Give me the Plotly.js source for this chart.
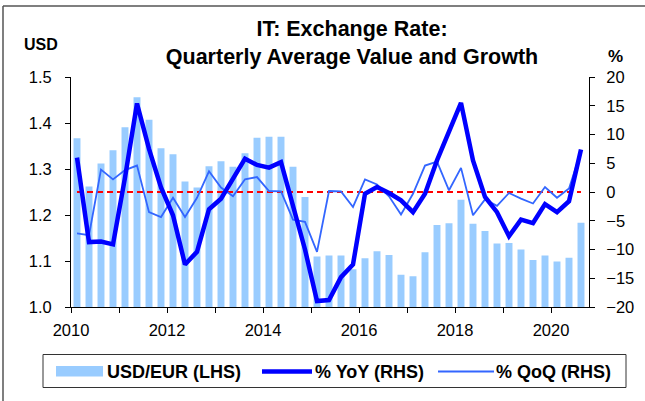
<!DOCTYPE html>
<html>
<head>
<meta charset="utf-8">
<script src="https://cdn.plot.ly/plotly-3.0.1.min.js"></script>
<style>
  html, body { margin: 0; padding: 0; background: #ffffff; }
  #chart { width: 645px; height: 401px; }
</style>
</head>
<body>
<div id="chart"></div>
<script>
// Quarter labels 2010Q1 .. 2020Q3
const quarters = [
  "2010Q1","2010Q2","2010Q3","2010Q4",
  "2011Q1","2011Q2","2011Q3","2011Q4",
  "2012Q1","2012Q2","2012Q3","2012Q4",
  "2013Q1","2013Q2","2013Q3","2013Q4",
  "2014Q1","2014Q2","2014Q3","2014Q4",
  "2015Q1","2015Q2","2015Q3","2015Q4",
  "2016Q1","2016Q2","2016Q3","2016Q4",
  "2017Q1","2017Q2","2017Q3","2017Q4",
  "2018Q1","2018Q2","2018Q3","2018Q4",
  "2019Q1","2019Q2","2019Q3","2019Q4",
  "2020Q1","2020Q2","2020Q3"
];

// USD per EUR, quarterly average (LHS)
const usdEur = [
  1.367, 1.262, 1.312, 1.341,
  1.391, 1.456, 1.407, 1.345,
  1.332, 1.273, 1.260, 1.306,
  1.317, 1.305, 1.334, 1.368,
  1.370, 1.370, 1.305, 1.239,
  1.110, 1.112, 1.112, 1.082,
  1.106, 1.121, 1.113, 1.070,
  1.067, 1.119, 1.178, 1.182,
  1.233, 1.181, 1.165, 1.138,
  1.139, 1.125, 1.102, 1.112,
  1.099, 1.107, 1.183
];

// % YoY (RHS)
const yoy = [
  5.98, -8.7, -8.6, -9.1,
  2.5, 15.4, 7.5, 0.8,
  -4.05, -12.6, -10.4, -3.0,
  -1.16, 2.3, 5.8, 4.7,
  4.24, 5.2, -2.4, -10.0,
  -18.96, -18.8, -14.8, -12.6,
  -0.3, 0.87, -0.17, -1.45,
  -3.5, -0.3, 5.5, 10.5,
  15.5, 5.5, -0.87, -3.5,
  -7.7, -4.8, -5.4, -2.1,
  -3.5, -1.6, 7.4
];

// % QoQ (RHS)
const qoq = [
  -7.2, -7.5, 3.9, 2.2,
  3.8, 4.6, -3.5, -4.35,
  -1.0, -4.35, -1.0, 3.6,
  0.77, -0.75, 2.2, 2.6,
  0.17, 0.1, -4.8, -5.2,
  -10.4, 0.17, 0.1, -2.6,
  2.2, 1.3, -0.75, -3.9,
  -0.3, 4.6, 5.3, 0.3,
  4.2, -4.05, -1.3, -2.4,
  -0.17, -1.16, -2.0, 0.87,
  -1.0, 0.6, 7.1
];

const zeroLine = quarters.map(() => 0);

const yearTicks = [2010,2011,2012,2013,2014,2015,2016,2017,2018,2019,2020];
const yearTickText = ["2010","","2012","","2014","","2016","","2018","","2020"];

// Convert quarter label to a fractional-year position (centre of the quarter)
const xPos = quarters.map(q => {
  const y = parseInt(q.slice(0, 4), 10);
  const n = parseInt(q.slice(5), 10);
  return y + (n - 1) / 4 + 0.125;
});

const FONT = "Liberation Sans, Arial, Helvetica, sans-serif";
const BAR_COLOR = "#99ccff";
const YOY_COLOR = "#0000ff";
const QOQ_COLOR = "#3366ff";

const traces = [
  {
    type: "bar", x: xPos, y: usdEur, name: "USD/EUR (LHS)",
    marker: { color: BAR_COLOR, line: { width: 0 } },
    yaxis: "y", hoverinfo: "skip"
  },
  {
    type: "scatter", mode: "lines", x: xPos, y: zeroLine, yaxis: "y2",
    line: { color: "#ff0000", width: 2, dash: "6px,4px" },
    showlegend: false, hoverinfo: "skip"
  },
  {
    type: "scatter", mode: "lines", x: xPos, y: qoq, name: "% QoQ (RHS)",
    line: { color: QOQ_COLOR, width: 1.8 }, yaxis: "y2", hoverinfo: "skip"
  },
  {
    type: "scatter", mode: "lines", x: xPos, y: yoy, name: "% YoY (RHS)",
    line: { color: YOY_COLOR, width: 4.5 }, yaxis: "y2", hoverinfo: "skip"
  }
];

// plot area: x 71..589 px, y 77..307 px
const L = 71, R = 589, T = 77, B = 307;
const px = v => (v - L) / (R - L);
const py = v => (B - v) / (B - T);

const shapes = [
  // outer frame (left and top)
  { type: "line", xref: "paper", yref: "paper", x0: px(3), x1: px(3), y0: py(6), y1: py(401), line: { color: "#555", width: 1.5 } },
  { type: "line", xref: "paper", yref: "paper", x0: px(3), x1: px(645), y0: py(6), y1: py(6), line: { color: "#555", width: 1.5 } },
  // legend box
  { type: "rect", xref: "paper", yref: "paper", x0: px(43), x1: px(626), y0: py(354.5), y1: py(387.5), line: { color: "#333", width: 1 }, fillcolor: "rgba(0,0,0,0)" },
  // legend swatches
  { type: "rect", xref: "paper", yref: "paper", x0: px(56), x1: px(103), y0: py(366), y1: py(376.5), line: { width: 0 }, fillcolor: BAR_COLOR },
  { type: "line", xref: "paper", yref: "paper", x0: px(262), x1: px(312), y0: py(371.5), y1: py(371.5), line: { color: YOY_COLOR, width: 4.5 } },
  { type: "line", xref: "paper", yref: "paper", x0: px(438), x1: px(494), y0: py(371.5), y1: py(371.5), line: { color: QOQ_COLOR, width: 1.8 } }
];

const legendFont = { family: FONT, size: 18, color: "#000" };
const annotations = [
  { text: "<b>USD</b>", xref: "paper", yref: "paper", x: px(41), y: py(45), xanchor: "center", yanchor: "middle", showarrow: false, font: { family: FONT, size: 16, color: "#000" } },
  { text: "<b>%</b>", xref: "paper", yref: "paper", x: px(615.5), y: py(56), xanchor: "center", yanchor: "middle", showarrow: false, font: { family: FONT, size: 17, color: "#000" } },
  { text: "<b>USD/EUR (LHS)</b>", xref: "paper", yref: "paper", x: px(105), y: py(371.5), xanchor: "left", yanchor: "middle", showarrow: false, font: legendFont },
  { text: "<b>% YoY (RHS)</b>", xref: "paper", yref: "paper", x: px(313), y: py(371.5), xanchor: "left", yanchor: "middle", showarrow: false, font: legendFont },
  { text: "<b>% QoQ (RHS)</b>", xref: "paper", yref: "paper", x: px(494), y: py(371.5), xanchor: "left", yanchor: "middle", showarrow: false, font: legendFont }
];

const tickFont = { family: FONT, size: 16.5, color: "#000" };

const layout = {
  width: 645, height: 401,
  margin: { l: L, r: 645 - R, t: T, b: 401 - B, pad: 0 },
  paper_bgcolor: "#ffffff", plot_bgcolor: "#ffffff",
  showlegend: false,
  bargap: 0.42,
  title: {
    text: "<b>IT: Exchange Rate:<br>Quarterly Average Value and Growth</b>",
    font: { family: FONT, size: 21.5, color: "#000" },
    xref: "container", yref: "container",
    x: 352 / 645, xanchor: "center",
    y: 1 - 36 / 401, yanchor: "top"
  },
  xaxis: {
    range: [2010, 2010 + (R - L) / 48],
    tickmode: "array", tickvals: yearTicks, ticktext: yearTickText,
    ticks: "outside", ticklen: 5, tickwidth: 1, tickcolor: "#000",
    showline: true, linecolor: "#000", linewidth: 1,
    showgrid: false, zeroline: false,
    tickfont: tickFont, ticklabelstandoff: 3
  },
  yaxis: {
    range: [1.0, 1.5], dtick: 0.1, tick0: 1.0, tickformat: ".1f",
    ticks: "outside", ticklen: 5, tickwidth: 1, tickcolor: "#000",
    showline: true, linecolor: "#000", linewidth: 1,
    showgrid: false, zeroline: false,
    tickfont: tickFont, ticklabelstandoff: 10
  },
  yaxis2: {
    range: [-20, 20], dtick: 5, tick0: 0,
    overlaying: "y", side: "right",
    ticks: "outside", ticklen: 5, tickwidth: 1, tickcolor: "#000",
    showline: true, linecolor: "#000", linewidth: 1,
    showgrid: false, zeroline: false,
    tickfont: tickFont, ticklabelstandoff: 8
  },
  shapes: shapes,
  annotations: annotations
};

Plotly.newPlot("chart", traces, layout, { displayModeBar: false, staticPlot: true });
</script>
</body>
</html>
